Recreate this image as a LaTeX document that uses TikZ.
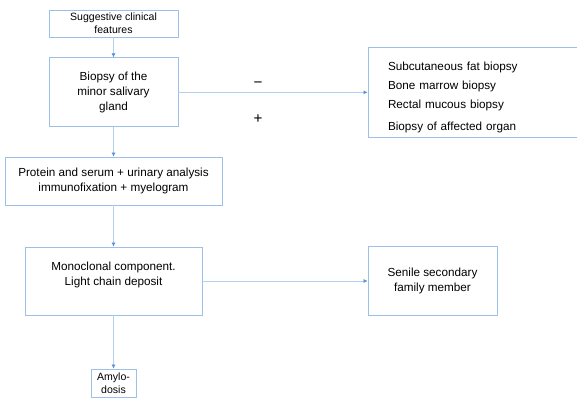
\documentclass[tikz,border=0pt]{standalone}
\usepackage{fontspec}
\setmainfont{Liberation Sans}
\usetikzlibrary{arrows.meta}
\definecolor{boxblue}{HTML}{9DC0E8}
\definecolor{lineblue}{HTML}{B3D0EE}
\definecolor{tipblue}{HTML}{5B93D3}

\begin{document}
\begin{tikzpicture}[>={Latex[length=3.5pt,width=3.5pt,color=tipblue]}]
\tikzstyle{box}=[draw=boxblue,line width=0.6pt,align=center,inner sep=0pt,font=\fontsize{10}{12.5}\selectfont];
\tikzstyle{small}=[font=\fontsize{9}{11}\selectfont];
\tikzstyle{sign}=[font=\fontsize{13}{14}\selectfont,inner sep=0pt];
\tikzstyle{flow}=[->,draw=lineblue,line width=0.6pt];
\path[use as bounding box,clip] (0,0) rectangle (17.31,-11.97);
% main column
%   nodes
    \node[box,small,minimum width=3.87cm,minimum height=0.81cm] (clin) at (3.405,-0.705) {Suggestive clinical\\features};
    \node[box,minimum width=3.87cm,minimum height=2.07cm] (biop) at (3.405,-2.77) {Biopsy of the\\minor salivary\\gland};
    \node[box,minimum width=6.51cm,minimum height=1.44cm] (prot) at (3.405,-5.43) {Protein and serum + urinary analysis\\immunofixation + myelogram};
    \node[box,minimum width=5.31cm,minimum height=2.04cm] (mono) at (3.405,-8.43) {Monoclonal component.\\Light chain deposit\\\mbox{}};
    \node[box,small,minimum width=1.35cm,minimum height=0.84cm] (amyl) at (3.405,-11.49) {Amylo-\\dosis};
% side boxes
    \node[box,minimum width=6.96cm,minimum height=2.7cm,text width=5.76cm,inner xsep=0.6cm,align=left] (other) at (14.52,-2.77) {\rule{0pt}{16pt}Subcutaneous fat biopsy\\[4pt]Bone marrow biopsy\\[4pt]Rectal mucous biopsy\\[6.5pt]Biopsy of affected organ};
    \node[box,minimum width=3.87cm,minimum height=2.07cm] (senile) at (12.975,-8.43) {Senile secondary\\family member};
    \node[sign] (neg) at (7.74,-2.55) {−};
    \node[sign] (pos) at (7.74,-3.57) {+};
%   edges
    \draw[flow] (clin) -- (biop);
    \draw[flow] (biop) -- (prot);
    \draw[flow] (prot) -- (mono);
    \draw[flow] (mono) -- (amyl);
    \draw[flow] (biop) -- (other);
    \draw[flow] (mono) -- (senile);
\end{tikzpicture}
\end{document}
